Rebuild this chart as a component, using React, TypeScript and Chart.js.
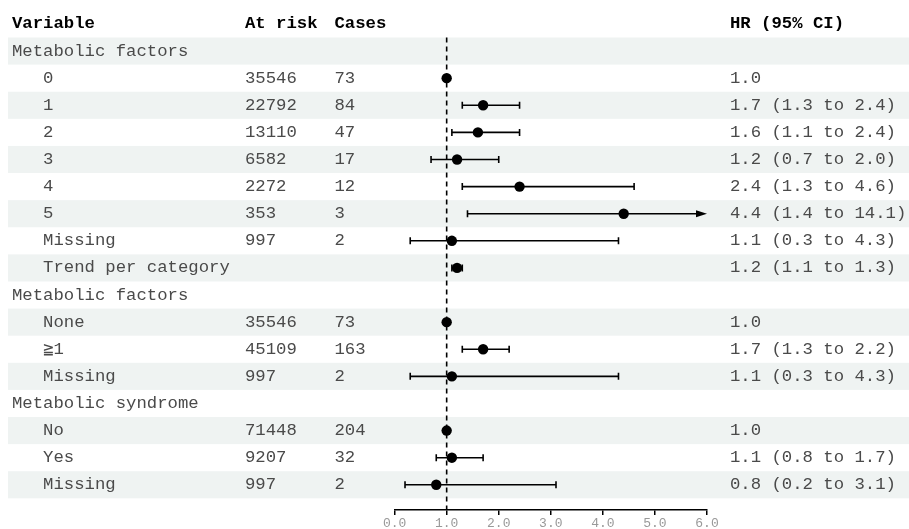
import { useEffect, useRef } from "react";
import { Chart, registerables } from "chart.js";

Chart.register(...registerables);

// ---------- data ----------
const rowLabels = [
  "Metabolic factors",
  "0",
  "1",
  "2",
  "3",
  "4",
  "5",
  "Missing",
  "Trend per category",
  "Metabolic factors",
  "None",
  "≧1",
  "Missing",
  "Metabolic syndrome",
  "No",
  "Yes",
  "Missing",
];
const isGroupRow = [
  true, false, false, false, false, false, false, false, false,
  true, false, false, false,
  true, false, false, false,
];
const atRisk = [
  "", "35546", "22792", "13110", "6582", "2272", "353", "997", "",
  "", "35546", "45109", "997",
  "", "71448", "9207", "997",
];
const cases = [
  "", "73", "84", "47", "17", "12", "3", "2", "",
  "", "73", "163", "2",
  "", "204", "32", "2",
];
const hr: (number | null)[] = [
  null, 1.0, 1.7, 1.6, 1.2, 2.4, 4.4, 1.1, 1.2,
  null, 1.0, 1.7, 1.1,
  null, 1.0, 1.1, 0.8,
];
const lower: (number | null)[] = [
  null, null, 1.3, 1.1, 0.7, 1.3, 1.4, 0.3, 1.1,
  null, null, 1.3, 0.3,
  null, null, 0.8, 0.2,
];
const upper: (number | null)[] = [
  null, null, 2.4, 2.4, 2.0, 4.6, 14.1, 4.3, 1.3,
  null, null, 2.2, 4.3,
  null, null, 1.7, 3.1,
];
const headers = ["Variable", "At risk", "Cases", "HR (95% CI)"];
const xTicks = [0, 1, 2, 3, 4, 5, 6];
const refValue = 1;

// ---------- styling ----------
const FONT = '"Liberation Mono", "Courier New", monospace';
const FONT_SIZE = 17.3;
const COL_X = [12, 245, 334.5, 730];
const BAND = "#eff3f2";
const TEXT = "#4a4a4a";

function hrText(i: number): string {
  const h = hr[i];
  if (h === null) return "";
  const lo = lower[i];
  const up = upper[i];
  if (lo === null || up === null) return h.toFixed(1);
  return `${h.toFixed(1)} (${lo.toFixed(1)} to ${up.toFixed(1)})`;
}

export default function App() {
  const ref = useRef<HTMLCanvasElement>(null);

  useEffect(() => {
    if (!ref.current) return;

    const tablePlugin = {
      id: "forestTable",
      beforeDraw(chart: any) {
        const { ctx } = chart;
        const y = chart.scales.y;
        const h = Math.abs(y.getPixelForValue(2) - y.getPixelForValue(1));
        ctx.save();
        ctx.fillStyle = BAND;
        rowLabels.forEach((_, i) => {
          if (i % 2 === 0) {
            const cy = y.getPixelForValue(i + 1);
            ctx.fillRect(8, cy - h / 2, chart.width - 8, h);
          }
        });
        ctx.restore();
      },
      beforeDatasetsDraw(chart: any) {
        const { ctx, chartArea } = chart;
        const x = chart.scales.x;
        const y = chart.scales.y;
        const h = Math.abs(y.getPixelForValue(2) - y.getPixelForValue(1));
        ctx.save();

        // text
        ctx.textBaseline = "middle";
        ctx.textAlign = "left";
        ctx.font = `bold ${FONT_SIZE}px ${FONT}`;
        ctx.fillStyle = "#000";
        const hy = y.getPixelForValue(0);
        headers.forEach((t, c) => ctx.fillText(t, COL_X[c], hy));

        ctx.font = `${FONT_SIZE}px ${FONT}`;
        ctx.fillStyle = TEXT;
        const indent = ctx.measureText("   ").width;
        rowLabels.forEach((lab, i) => {
          const cy = y.getPixelForValue(i + 1);
          ctx.fillText(lab, COL_X[0] + (isGroupRow[i] ? 0 : indent), cy);
          if (atRisk[i]) ctx.fillText(atRisk[i], COL_X[1], cy);
          if (cases[i]) ctx.fillText(cases[i], COL_X[2], cy);
          const t = hrText(i);
          if (t) ctx.fillText(t, COL_X[3], cy);
        });

        // reference dashed line
        const rx = x.getPixelForValue(refValue);
        ctx.strokeStyle = "#000";
        ctx.lineWidth = 1.6;
        ctx.setLineDash([5, 4]);
        ctx.beginPath();
        ctx.moveTo(rx, y.getPixelForValue(1) - h / 2);
        ctx.lineTo(rx, chartArea.bottom);
        ctx.stroke();
        ctx.setLineDash([]);

        // error bars
        const cap = 3.5;
        const xmax = x.max;
        rowLabels.forEach((_, i) => {
          const lo = lower[i];
          const up = upper[i];
          if (lo === null || up === null) return;
          const cy = y.getPixelForValue(i + 1);
          const px0 = x.getPixelForValue(lo);
          const clipped = up > xmax;
          const px1 = x.getPixelForValue(clipped ? xmax : up);
          ctx.lineWidth = 1.6;
          ctx.beginPath();
          ctx.moveTo(px0, cy);
          ctx.lineTo(clipped ? px1 - 10 : px1, cy);
          ctx.moveTo(px0, cy - cap);
          ctx.lineTo(px0, cy + cap);
          if (!clipped) {
            ctx.moveTo(px1, cy - cap);
            ctx.lineTo(px1, cy + cap);
          }
          ctx.stroke();
          if (clipped) {
            ctx.fillStyle = "#000";
            ctx.beginPath();
            ctx.moveTo(px1, cy);
            ctx.lineTo(px1 - 11, cy - 3.5);
            ctx.lineTo(px1 - 11, cy + 3.5);
            ctx.closePath();
            ctx.fill();
          }
        });
        ctx.restore();
      },
    };

    const points = hr
      .map((v, i) => (v === null ? null : { x: v, y: i + 1 }))
      .filter((p) => p !== null);

    const chart = new Chart(ref.current, {
      type: "scatter",
      data: {
        datasets: [
          {
            data: points as any,
            backgroundColor: "#000",
            borderWidth: 0,
            pointRadius: 5.2,
            pointHoverRadius: 5.2,
            clip: false as any,
          },
        ],
      },
      options: {
        animation: false,
        responsive: false,
        events: [],
        layout: { padding: { left: 394.6, right: 202, top: 37.5, bottom: 0 } },
        plugins: { legend: { display: false }, tooltip: { enabled: false } },
        scales: {
          x: {
            type: "linear",
            position: "bottom",
            min: 0,
            max: 6,
            afterBuildTicks: (s: any) => {
              s.ticks = xTicks.map((v) => ({ value: v }));
            },
            afterFit: (s: any) => {
              s.height = 19;
            },
            grid: {
              drawOnChartArea: false,
              drawTicks: true,
              tickLength: 5,
              color: "#000",
              lineWidth: 1.5,
            },
            border: { display: true, color: "#000", width: 1.5 },
            ticks: {
              autoSkip: false,
              maxRotation: 0,
              padding: 1,
              color: "#999999",
              font: { family: FONT, size: 13 },
              callback: (v: any) => Number(v).toFixed(1),
            },
          },
          y: {
            type: "linear",
            reverse: true,
            min: 0.5,
            max: 17.93,
            display: false,
          },
        },
      },
      plugins: [tablePlugin],
    });
    return () => chart.destroy();
  }, []);

  return (
    <div style={{ position: "fixed", left: 0, top: 0, width: 909, height: 529, background: "#fff" }}>
      <canvas ref={ref} width={909} height={529} style={{ display: "block" }} />
    </div>
  );
}
